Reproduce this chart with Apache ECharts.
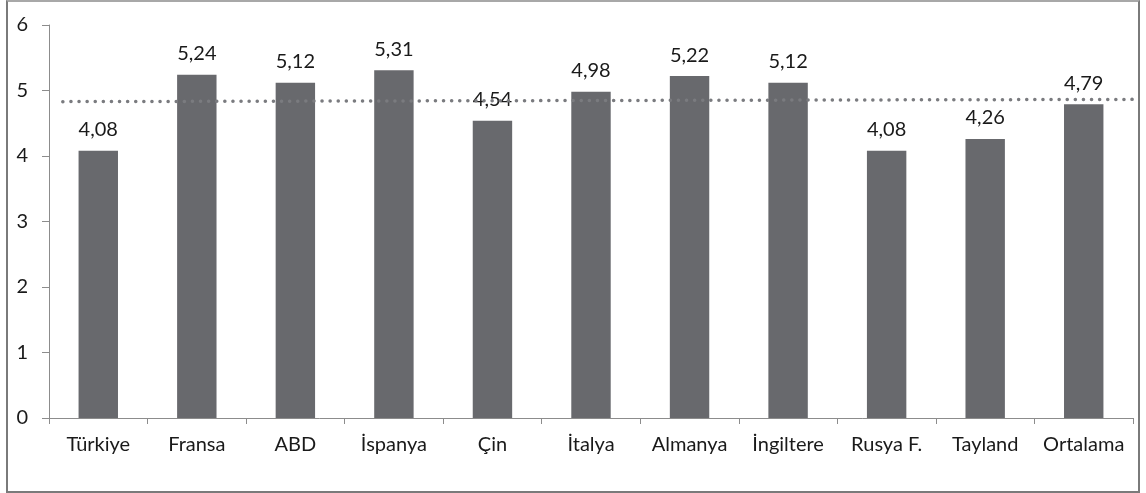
<!DOCTYPE html>
<html>
<head>
<meta charset="utf-8">
<script src="https://cdn.jsdelivr.net/npm/echarts@6/dist/echarts.min.js"></script>
<style>
  html, body { margin: 0; padding: 0; background: #fff; }
  #frame { position: absolute; left: 6px; top: 0px; width: 1130px; height: 489px; border: 2px solid #7a7a7a; border-top-color: #a8a8a8; box-sizing: content-box; }
  #chart { position: absolute; left: 0; top: 0; width: 1146px; height: 493px; }
</style>
</head>
<body>
<div id="frame"></div>
<div id="chart"></div>
<script>
// Countries and their scores
const categories = ['Türkiye', 'Fransa', 'ABD', 'İspanya', 'Çin', 'İtalya', 'Almanya', 'İngiltere', 'Rusya F.', 'Tayland', 'Ortalama'];
const values = [4.08, 5.24, 5.12, 5.31, 4.54, 4.98, 5.22, 5.12, 4.08, 4.26, 4.79];
// Dotted reference line: [category position, value] end points
const refLine = [[-0.36, 4.83], [10.64, 4.865]];
const yTicks = [0, 1, 2, 3, 4, 5, 6];

const chart = echarts.init(document.getElementById('chart'), null, { renderer: 'canvas' });
const font = 'Lato, "Open Sans", "Noto Sans", sans-serif';
const fmt = v => String(v.toFixed(2)).replace('.', ',');

chart.setOption({
  animation: false,
  grid: { left: 49, right: 13, top: 25, bottom: 75 },
  xAxis: [
    {
      type: 'category',
      data: categories,
      axisLine: { lineStyle: { color: '#8c8c8c', width: 1 } },
      axisTick: { show: true, interval: 0, length: 6, lineStyle: { color: '#8c8c8c' } },
      axisLabel: { interval: 0, color: '#1a1a1a', fontFamily: font, fontSize: 20, margin: 17 }
    },
    {
      type: 'value',
      min: -0.5,
      max: 10.5,
      show: false
    }
  ],
  yAxis: {
    type: 'value',
    min: yTicks[0],
    max: yTicks[yTicks.length - 1],
    interval: 1,
    axisLine: { show: true, onZero: false, lineStyle: { color: '#8c8c8c', width: 1 } },
    axisTick: { show: true, inside: false, length: 7, lineStyle: { color: '#8c8c8c' } },
    splitLine: { show: false },
    axisLabel: { color: '#1a1a1a', fontFamily: font, fontSize: 20, margin: 21 }
  },
  series: [
    {
      type: 'bar',
      data: values,
      barWidth: '40%',
      itemStyle: { color: '#68696d' },
      label: {
        show: true,
        position: 'top',
        distance: 11,
        color: '#1a1a1a',
        fontFamily: font,
        fontSize: 20,
        formatter: p => fmt(p.value)
      }
    },
    {
      type: 'line',
      xAxisIndex: 1,
      data: refLine,
      symbol: 'none',
      z: 5,
      lineStyle: { color: '#7a7b7f', width: 3.5, type: [0.1, 8], cap: 'round' }
    }
  ]
});
</script>
</body>
</html>
